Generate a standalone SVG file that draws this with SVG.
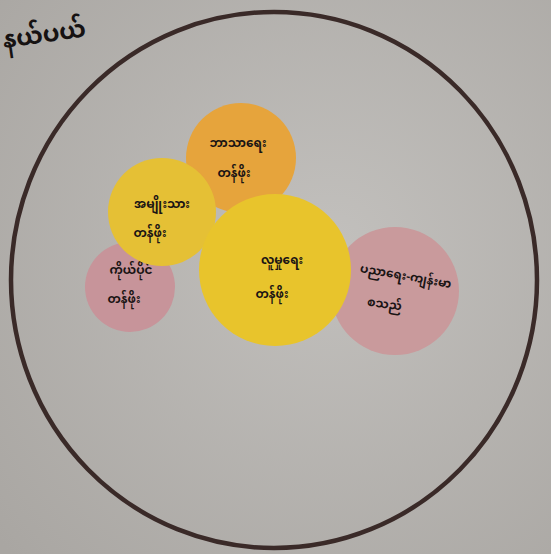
<svg xmlns="http://www.w3.org/2000/svg" width="551" height="554" viewBox="0 0 551 554">
<defs>
<style>
.lbl{font-family:"Noto Sans Myanmar","Padauk","Myanmar Text","Noto Sans",sans-serif;font-size:12px;font-weight:bold;fill:#1a1414;text-anchor:middle}
.title{font-family:"Noto Sans Myanmar","Padauk","Myanmar Text","Noto Sans",sans-serif;font-size:24px;font-weight:bold;fill:#161212}
</style>
<radialGradient id="paper" cx="0.6" cy="0.45" r="0.8">
<stop offset="0" stop-color="#c2c0bd"/>
<stop offset="1" stop-color="#a9a6a2"/>
</radialGradient>
</defs>
<rect x="0" y="0" width="551" height="554" fill="url(#paper)"/>
<text class="title" x="4" y="48" transform="rotate(-8 4 48)">နယ်ပယ်</text>
<g id="outer">
<ellipse cx="274" cy="280" rx="263" ry="268" fill="none" stroke="#3a2a28" stroke-width="4.5"/>
</g>
<g id="connectors"></g>
<g id="orange">
<circle cx="241" cy="158" r="55" fill="#e6a43c"/>
<text class="lbl" x="238" y="147">ဘာသာရေး</text>
<text class="lbl" x="234" y="177">တန်ဖိုး</text>
</g>
<g id="pink-right">
<circle cx="395" cy="291" r="64" fill="#c99a9c"/>
<text class="lbl" x="405" y="280" transform="rotate(10 405 280)">ပညာရေး-ကျန်းမာ</text>
<text class="lbl" x="384" y="308" transform="rotate(8 384 308)">စသည်</text>
</g>
<g id="pink-left">
<circle cx="130" cy="287" r="45" fill="#c7949a"/>
<text class="lbl" x="131" y="274">ကိုယ်ပိုင်</text>
<text class="lbl" x="124" y="303">တန်ဖိုး</text>
</g>
<g id="yellow-small">
<circle cx="162" cy="212" r="54" fill="#e5c035"/>
<text class="lbl" x="162" y="208">အမျိုးသား</text>
<text class="lbl" x="150" y="237">တန်ဖိုး</text>
</g>
<g id="yellow-big">
<circle cx="275" cy="270" r="76" fill="#e8c42c"/>
<text class="lbl" x="282" y="264">လူမှုရေး</text>
<text class="lbl" x="272" y="298">တန်ဖိုး</text>
</g>
</svg>
